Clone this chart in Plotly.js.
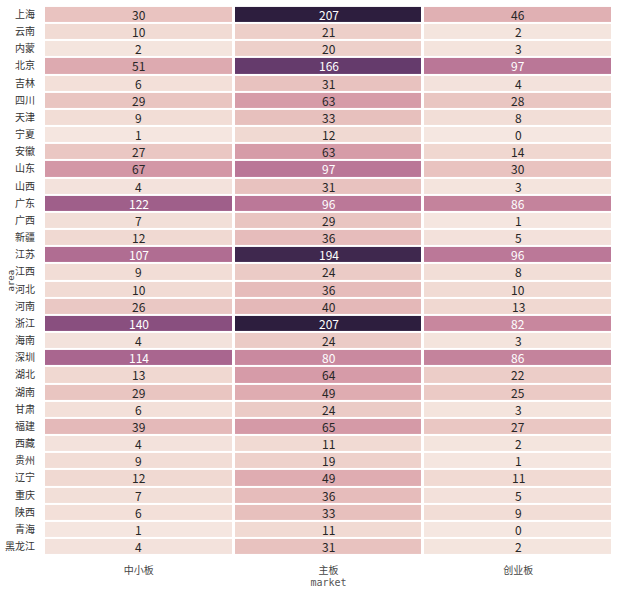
<!DOCTYPE html>
<html>
<head>
<meta charset="utf-8">
<script src="https://cdn.plot.ly/plotly-3.0.1.min.js"></script>
<style>html,body{margin:0;padding:0;background:#fff;}#chart{width:640px;height:594px;}</style>
</head>
<body>
<div id="chart"></div>
<script>
const markets = ["中小板", "主板", "创业板"];
const areas = ["上海","云南","内蒙","北京","吉林","四川","天津","宁夏","安徽","山东","山西","广东","广西","新疆","江苏","江西","河北","河南","浙江","海南","深圳","湖北","湖南","甘肃","福建","西藏","贵州","辽宁","重庆","陕西","青海","黑龙江"];
const smeBoard = [30,10,2,51,6,29,9,1,27,67,4,122,7,12,107,9,10,26,140,4,114,13,29,6,39,4,9,12,7,6,1,4];
const mainBoard = [207,21,20,166,31,63,33,12,63,97,31,96,29,36,194,24,36,40,207,24,80,64,49,24,65,11,19,49,36,33,11,31];
const gemBoard = [46,2,3,97,4,28,8,0,14,30,3,86,1,5,96,8,10,13,82,3,86,22,25,3,27,2,1,11,5,9,0,2];

// cubehelix colour function (seaborn style)
function cubehelix(x){
  const start=0, rot=0.4, gamma=1, hue=0.8;
  const xg = Math.pow(x, gamma);
  const a = hue*xg*(1-xg)/2;
  const phi = 2*Math.PI*(start/3 + rot*x);
  const c = Math.cos(phi), s = Math.sin(phi);
  const r = xg + a*(-0.14861*c + 1.78277*s);
  const g = xg + a*(-0.29227*c - 0.90649*s);
  const b = xg + a*(1.97294*c);
  const f = v => Math.round(Math.max(0,Math.min(1,v))*255);
  return `rgb(${f(r)},${f(g)},${f(b)})`;
}
const light = 0.92, dark = 0.15;
const colorscale = [];
for (let i=0;i<=20;i++){
  const t=i/20;
  colorscale.push([t, cubehelix(light + (dark-light)*t)]);
}

const z = areas.map((_,i)=>[smeBoard[i], mainBoard[i], gemBoard[i]]);
const zmax = 207;

const annotations = [];
areas.forEach((a,i)=>{
  z[i].forEach((v,j)=>{
    annotations.push({
      x: markets[j], y: a, xref:'x', yref:'y', text: String(v), showarrow:false,
      font:{family:'"Noto Sans CJK SC", sans-serif', size:12, color: v>=75 ? '#ffffff' : '#262626'}
    });
  });
});
annotations.push({
  xref:'paper', yref:'paper', x:0, y:0.5, xshift:-41, text:'area', textangle:-90,
  showarrow:false, font:{family:'"DejaVu Sans Mono", monospace', size:9, color:'#444'}
});

const trace = {
  type:'heatmap', x: markets, y: areas, z: z,
  colorscale: colorscale, zmin:0, zmax:zmax, showscale:false,
  xgap:3, ygap:2, hoverinfo:'none'
};

const layout = {
  width:640, height:594,
  margin:{l:44, r:27, t:4, b:37},
  paper_bgcolor:'#fff', plot_bgcolor:'#fff',
  font:{family:'"Noto Sans CJK SC", sans-serif', color:'#333'},
  xaxis:{type:'category', showgrid:false, zeroline:false, showline:false,
    ticks:'outside', ticklen:4, tickcolor:'rgba(0,0,0,0)',
    tickfont:{size:10, color:'#444'},
    title:{text:'market', standoff:2, font:{family:'"DejaVu Sans Mono", monospace', size:10, color:'#555'}}},
  yaxis:{type:'category', autorange:'reversed', showgrid:false, zeroline:false, showline:false,
    ticks:'outside', ticklen:6, tickcolor:'rgba(0,0,0,0)',
    tickfont:{size:10, color:'#333'}},
  annotations: annotations
};
Plotly.newPlot('chart',[trace],layout,{displayModeBar:false, staticPlot:true});
</script>
</body>
</html>
